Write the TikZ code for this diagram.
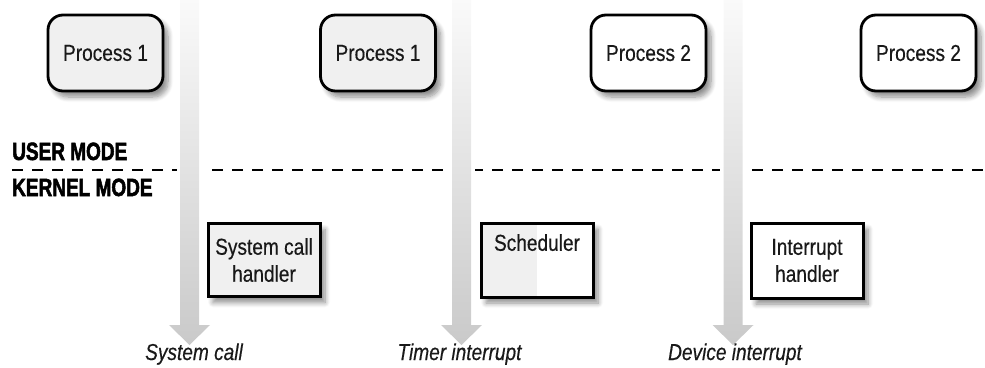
\documentclass[tikz,border=0pt]{standalone}
\usepackage{fontspec}
\setmainfont{Liberation Sans}[FakeStretch=0.83,FakeBold=0.4]
\newfontfamily\modefont{Liberation Sans Bold}[FakeStretch=0.76,FakeBold=2]
\usetikzlibrary{shadows.blur}
\definecolor{boxgray}{HTML}{F0F0F0}
\begin{document}
\begin{tikzpicture}[x=1pt,y=-1pt,
  txt/.style={font=\fontsize{23}{27}\selectfont, text=black!90},
  softshadow/.style={blur shadow={shadow xshift=5pt, shadow yshift=-6pt, shadow blur steps=8, shadow opacity=45, shadow blur radius=5pt}},
  proc/.style={txt, draw=black, line width=2.8pt, rounded corners=15pt, minimum width=115pt, minimum height=76pt, inner sep=0pt, softshadow},
  kbox/.style={txt, draw=black, line width=3pt, minimum width=112pt, minimum height=73pt, inner sep=0pt, align=center, softshadow},
  mode/.style={anchor=base west, inner sep=0pt, font=\modefont\fontsize{25}{27}\selectfont},
  evlabel/.style={anchor=base, inner sep=0pt, font=\itshape\fontsize{23}{27}\selectfont, text=black!90},
  modeline/.style={line width=2.6pt, dash pattern=on 11pt off 9pt},
  bigarrow/.style={top color=gray!4, bottom color=gray!42}
]
\useasboundingbox (0,0) rectangle (985,367);

% mode separator
\coordinate (lineL) at (12,170);
\coordinate (lineR) at (985,170);
\draw[modeline] (lineL) -- (lineR);
\node[mode] (user) at (12,160) {USER MODE};
\node[mode] (kernel) at (12,196) {KERNEL MODE};

% event arrows (white margin breaks the dashed line)
\foreach \x/\n in {189.5/a1, 461.5/a2, 733/a3}{
  \fill[white] (\x-13,160) rectangle (\x+13,180);
  \shade[bigarrow] (\x-9.5,0) -- (\x+9.5,0) -- (\x+9.5,325) -- (\x+20.5,325)
     -- (\x,345) -- (\x-20.5,325) -- (\x-9.5,325) -- cycle;
  \coordinate (\n) at (\x,345);
}

% processes
\node[proc, fill=boxgray] (p1a) at (105.5,53) {Process 1};
\node[proc, fill=boxgray] (p1b) at (378,53) {Process 1};
\node[proc, fill=white] (p2a) at (648.5,53) {Process 2};
\node[proc, fill=white] (p2b) at (918.5,53) {Process 2};

% kernel handlers
\node[kbox, fill=boxgray] (sch) at (264,260) {System call\\handler};
\node[kbox, fill=white, minimum height=74pt,
  path picture={\fill[boxgray] (path picture bounding box.south west) rectangle (path picture bounding box.north);}]
  (sched) at (537,260) {Scheduler\\\strut};
\node[kbox, fill=white, minimum height=75pt] (ih) at (807,260.5) {Interrupt\\handler};

% event labels
\node[evlabel] (l1) at ([xshift=4.5pt]a1 |- 0,360) {System call};
\node[evlabel] (l2) at ([xshift=-2pt]a2 |- 0,360) {Timer interrupt};
\node[evlabel] (l3) at ([xshift=2pt]a3 |- 0,360) {Device interrupt};
\end{tikzpicture}
\end{document}
